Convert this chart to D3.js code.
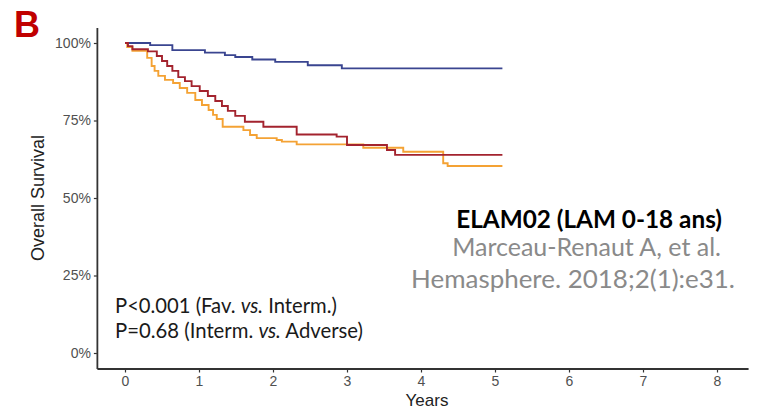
<!DOCTYPE html>
<html>
<head>
<meta charset="utf-8">
<script src="https://cdn.jsdelivr.net/npm/d3@7"></script>
<style>
  body { margin: 0; background: #fff; }
  svg { display: block; }
</style>
</head>
<body>
<div id="chart"></div>
<script>
// Kaplan-Meier steps (years, survival)
const favTime = [0, 0.34, 0.64, 1.08, 1.35, 1.49, 1.72, 2.03, 2.47, 2.93, 5.1];
const favSurv = [1, 0.993, 0.977, 0.969, 0.961, 0.955, 0.947, 0.939, 0.928, 0.918, 0.918];

const intTime = [0, 0.04, 0.1, 0.31, 0.43, 0.5, 0.57, 0.64, 0.72, 0.81, 0.9, 1.01, 1.12, 1.22, 1.31, 1.39, 1.49, 1.62, 1.87, 2.32, 2.86, 3.0, 3.54, 3.65, 5.1];
const intSurv = [1, 0.99, 0.98, 0.973, 0.958, 0.942, 0.926, 0.91, 0.89, 0.877, 0.861, 0.845, 0.829, 0.813, 0.797, 0.781, 0.765, 0.746, 0.73, 0.705, 0.698, 0.671, 0.655, 0.639, 0.639];

const advTime = [0, 0.03, 0.1, 0.3, 0.36, 0.4, 0.45, 0.54, 0.65, 0.74, 0.84, 0.95, 1.04, 1.13, 1.19, 1.24, 1.32, 1.6, 1.69, 1.78, 2.05, 2.12, 2.32, 3.22, 3.76, 4.3, 4.36, 5.1];
const advSurv = [1, 0.987, 0.975, 0.952, 0.926, 0.91, 0.894, 0.881, 0.871, 0.855, 0.839, 0.816, 0.8, 0.784, 0.768, 0.755, 0.73, 0.719, 0.703, 0.693, 0.687, 0.682, 0.673, 0.662, 0.649, 0.612, 0.603, 0.603];

const xTicks = [0, 1, 2, 3, 4, 5, 6, 7, 8];
const yTicks = [0, 0.25, 0.5, 0.75, 1];

const width = 765, height = 412;

const svg = d3.select('#chart')
    .append('svg')
    .attr('width', width)
    .attr('height', height);

// scales (ggplot style 5% expansion)
const x = d3.scaleLinear()
    .domain([-0.38, 8.42])
    .range([125 - 0.38 * 74, 125 + 8.42 * 74]);

const y = d3.scaleLinear()
    .domain([-0.05, 1.05])
    .range([368.5, 27.5]);

// survival curves
const line = d3.line()
    .x(d => x(d[0]))
    .y(d => y(d[1]))
    .curve(d3.curveStepAfter);

const curves = [
    { t: favTime, s: favSurv, color: '#3a4590' },
    { t: advTime, s: advSurv, color: '#f4a234' },
    { t: intTime, s: intSurv, color: '#a3232e' }
];

curves.forEach(c => {
    svg.append('path')
        .datum(c.t.map((t, i) => [t, c.s[i]]))
        .attr('d', line)
        .attr('fill', 'none')
        .attr('stroke', c.color)
        .attr('stroke-width', 1.9);
});

// axes
const xAxis = svg.append('g')
    .attr('transform', `translate(0,${y(-0.05)})`)
    .call(d3.axisBottom(x).tickValues(xTicks).tickSize(4).tickSizeOuter(0).tickPadding(4));

const yAxis = svg.append('g')
    .attr('transform', `translate(${x(-0.38)},0)`)
    .call(d3.axisLeft(y).tickValues(yTicks).tickSize(3).tickSizeOuter(0).tickPadding(3)
        .tickFormat(d3.format('.0%')));

[xAxis, yAxis].forEach(a => {
    a.select('.domain').attr('stroke', '#333').attr('stroke-width', 1.8);
    a.selectAll('.tick line').attr('stroke', '#333').attr('stroke-width', 1.2);
    a.selectAll('.tick text')
        .attr('fill', '#505050')
        .style('font-family', '"Liberation Sans", Arial, sans-serif')
        .style('font-size', '14px');
});

// axis titles
svg.append('text')
    .attr('x', 427)
    .attr('y', 406)
    .attr('text-anchor', 'middle')
    .style('font-family', '"Liberation Sans", Arial, sans-serif')
    .style('font-size', '17px')
    .attr('fill', '#222')
    .text('Years');

svg.append('text')
    .attr('transform', `translate(44,${y(0.5)}) rotate(-90)`)
    .attr('text-anchor', 'middle')
    .style('font-family', '"Liberation Sans", Arial, sans-serif')
    .style('font-size', '18px')
    .attr('fill', '#222')
    .text('Overall Survival');

// panel letter
svg.append('text')
    .attr('x', 14)
    .attr('y', 37)
    .style('font-family', '"Liberation Sans", Arial, sans-serif')
    .style('font-size', '36px')
    .style('font-weight', 'bold')
    .attr('fill', '#c00000')
    .text('B');

// scale a text's font so it spans the wanted width
function fit(t, w) {
    const s = parseFloat(t.style('font-size'));
    t.style('font-size', (s * w / t.node().getComputedTextLength()) + 'px');
}

const annoFont = 'Lato, "Open Sans", sans-serif';

// p values
const p1 = svg.append('text')
    .attr('x', 115).attr('y', 313)
    .style('font-family', annoFont).style('font-size', '18px')
    .attr('fill', '#1a1a1a');
p1.append('tspan').text('P<0.001 (Fav. ');
p1.append('tspan').style('font-style', 'italic').text('vs.');
p1.append('tspan').text(' Interm.)');
fit(p1, 222);

const p2 = svg.append('text')
    .attr('x', 115).attr('y', 338)
    .style('font-family', annoFont).style('font-size', '18px')
    .attr('fill', '#1a1a1a');
p2.append('tspan').text('P=0.68 (Interm. ');
p2.append('tspan').style('font-style', 'italic').text('vs.');
p2.append('tspan').text(' Adverse)');
fit(p2, 248);

// study reference
const ref = [
    { text: 'ELAM02 (LAM 0-18 ans)', left: 456, right: 722, base: 228, bold: true, color: '#000' },
    { text: 'Marceau-Renaut A, et al.', left: 452, right: 721, base: 256, bold: false, color: '#8a8a8a' },
    { text: 'Hemasphere. 2018;2(1):e31.', left: 411, right: 735, base: 288, bold: false, color: '#8a8a8a' }
];

ref.forEach(r => {
    const t = svg.append('text')
        .attr('x', r.right)
        .attr('y', r.base)
        .attr('text-anchor', 'end')
        .style('font-family', annoFont)
        .style('font-size', '20px')
        .style('font-weight', r.bold ? 'bold' : 'normal')
        .attr('fill', r.color)
        .text(r.text);
    fit(t, r.right - r.left);
});
</script>
</body>
</html>
